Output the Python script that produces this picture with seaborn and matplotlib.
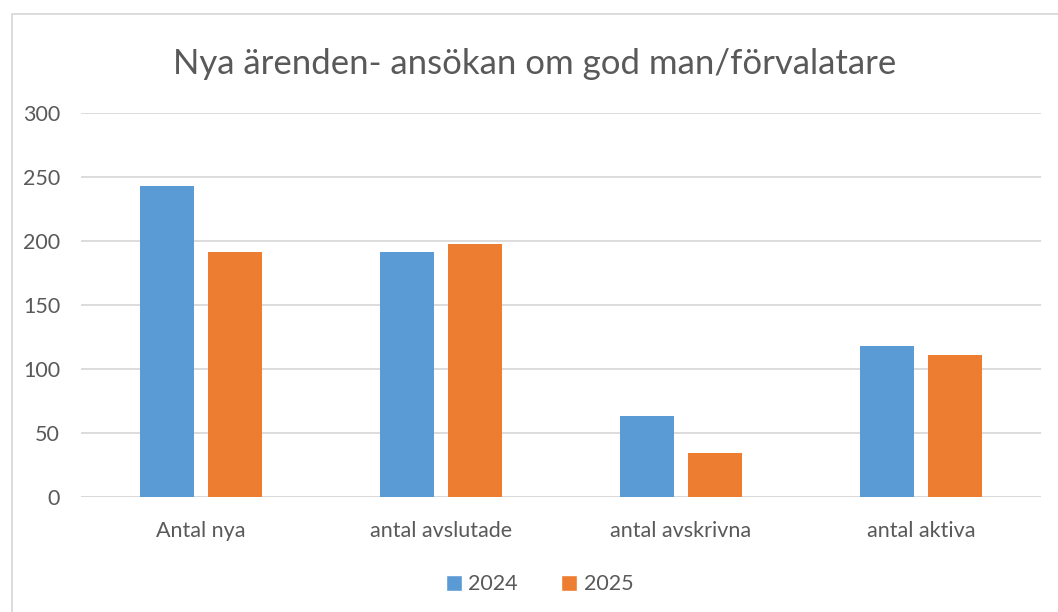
import numpy as np
import pandas as pd
import matplotlib.pyplot as plt
from matplotlib.patches import Rectangle, Patch
import seaborn as sns

# values
categories = ["Antal nya", "antal avslutade", "antal avskrivna", "antal aktiva"]
years = ["2024", "2025"]
values_2024 = [243, 191, 63, 118]
values_2025 = [191, 198, 34, 111]
colors = ["#5B9BD5", "#ED7D31"]

df = pd.DataFrame({
    "kategori": categories * 2,
    "år": [years[0]] * 4 + [years[1]] * 4,
    "antal": values_2024 + values_2025,
})

sns.set_style("white")
plt.rcParams["font.family"] = ["Lato", "DejaVu Sans"]
text_col = "#595959"

fig = plt.figure(figsize=(10.58, 6.12), dpi=100)
ax = fig.add_axes([0.0765, 0.188, 0.9074, 0.6274])

sns.barplot(data=df, x="kategori", y="antal", hue="år", palette=colors,
            width=0.567, gap=0.206, ax=ax, legend=False, saturation=1,
            linewidth=0)

ax.set_ylim(0, 300)
ax.set_xlim(-0.5, 3.5)
ax.set_yticks(np.arange(0, 301, 50))
ax.yaxis.grid(True, color="#D9D9D9", linewidth=1.3)
ax.set_axisbelow(True)
for s in ax.spines.values():
    s.set_visible(False)
ax.axhline(0, color="#D9D9D9", linewidth=1.3, zorder=0)
ax.set_xlabel("")
ax.set_ylabel("")
ax.tick_params(axis="both", length=0, labelsize=15.5, labelcolor=text_col)
ax.tick_params(axis="x", pad=17)
ax.tick_params(axis="y", pad=15)

fig.text(0.505, 0.895, "Nya ärenden- ansökan om god man/förvalatare",
         ha="center", va="center", fontsize=25, color=text_col)

handles = [Patch(facecolor=c, label=y) for c, y in zip(colors, years)]
fig.legend(handles=handles, loc="center", bbox_to_anchor=(0.51, 0.045), ncol=2,
           frameon=False, fontsize=15.5, labelcolor=text_col, handlelength=0.75,
           handleheight=0.75, handletextpad=0.3, columnspacing=2.0)

fig.patches.append(Rectangle((12 / 1058, -0.01), 1.0, 1 - 14 / 612 + 0.01,
                             transform=fig.transFigure, fill=False,
                             edgecolor="#D9D9D9", linewidth=1.3))

fig.savefig("out.png", dpi=100)
